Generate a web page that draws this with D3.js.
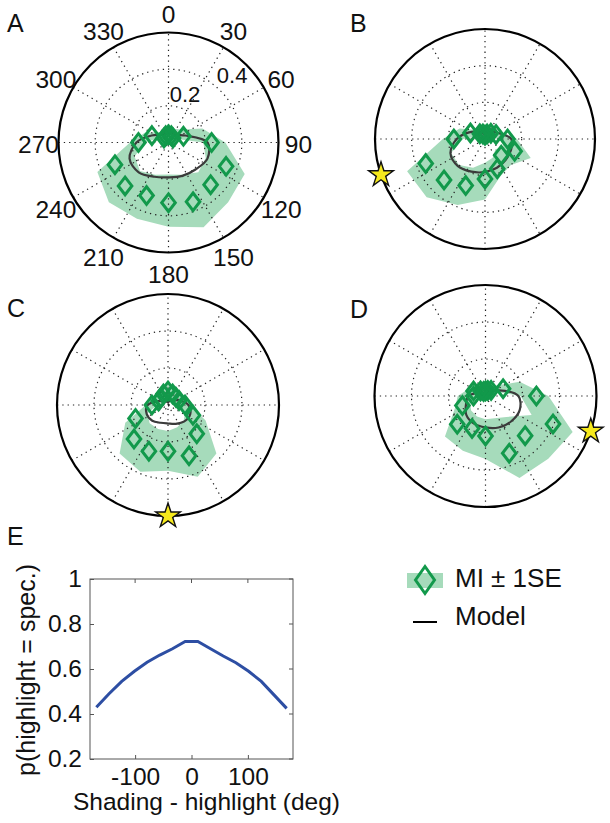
<!DOCTYPE html>
<html>
<head>
<meta charset="utf-8">
<script src="https://cdn.jsdelivr.net/npm/d3@7"></script>
<style>
  html, body { margin: 0; padding: 0; background: #fff; }
  svg { display: block; font-family: "Liberation Sans", Arial, sans-serif; }
</style>
</head>
<body>
<svg id="fig" width="610" height="823"></svg>
<script>
// ---------------- DATA ----------------
const angles = [0, 22.5, 45, 67.5, 90, 112.5, 135, 157.5, 180, 202.5, 225, 247.5, 270, 292.5, 315, 337.5];

const meanA  = [0.042, 0.040, 0.035, 0.088, 0.235, 0.340, 0.325, 0.350, 0.328, 0.313, 0.335, 0.316, 0.164, 0.098, 0.035, 0.040];
const lowA   = [0.010, 0.010, 0.010, 0.050, 0.190, 0.220, 0.230, 0.190, 0.175, 0.190, 0.220, 0.200, 0.130, 0.060, 0.010, 0.010];
const highA  = [0.070, 0.080, 0.100, 0.200, 0.310, 0.450, 0.460, 0.500, 0.460, 0.450, 0.460, 0.420, 0.210, 0.140, 0.080, 0.070];
const modelA = [0.044, 0.055, 0.060, 0.100, 0.213, 0.230, 0.208, 0.197, 0.190, 0.202, 0.230, 0.230, 0.175, 0.100, 0.060, 0.050];

const meanB  = [0.020, 0.030, 0.045, 0.065, 0.123, 0.175, 0.125, 0.175, 0.218, 0.275, 0.316, 0.350, 0.170, 0.086, 0.040, 0.030];
const lowB   = [0.010, 0.010, 0.020, 0.030, 0.080, 0.110, 0.080, 0.110, 0.130, 0.170, 0.200, 0.200, 0.120, 0.040, 0.010, 0.010];
const highB  = [0.050, 0.060, 0.070, 0.100, 0.175, 0.270, 0.200, 0.220, 0.330, 0.390, 0.450, 0.460, 0.230, 0.150, 0.070, 0.050];
const modelB = [0.028, 0.039, 0.055, 0.083, 0.143, 0.154, 0.160, 0.170, 0.180, 0.193, 0.209, 0.204, 0.154, 0.094, 0.055, 0.033];

const meanC  = [0.076, 0.065, 0.060, 0.065, 0.092, 0.146, 0.220, 0.297, 0.250, 0.270, 0.260, 0.190, 0.087, 0.055, 0.055, 0.065];
const lowC   = [0.030, 0.030, 0.030, 0.040, 0.060, 0.100, 0.120, 0.130, 0.140, 0.140, 0.140, 0.120, 0.060, 0.030, 0.030, 0.030];
const highC  = [0.110, 0.100, 0.090, 0.100, 0.120, 0.220, 0.370, 0.420, 0.355, 0.390, 0.370, 0.250, 0.120, 0.090, 0.090, 0.100];
const modelC = [0.016, 0.022, 0.033, 0.065, 0.110, 0.130, 0.125, 0.110, 0.100, 0.104, 0.120, 0.125, 0.110, 0.055, 0.027, 0.019];

const meanD  = [0.027, 0.032, 0.043, 0.103, 0.275, 0.395, 0.303, 0.335, 0.216, 0.190, 0.216, 0.135, 0.065, 0.070, 0.038, 0.027];
const lowD   = [0.005, 0.005, 0.010, 0.060, 0.190, 0.270, 0.160, 0.130, 0.125, 0.120, 0.110, 0.090, 0.050, 0.030, 0.005, 0.005];
const highD  = [0.050, 0.060, 0.080, 0.200, 0.340, 0.510, 0.480, 0.480, 0.340, 0.320, 0.310, 0.180, 0.150, 0.100, 0.060, 0.050];
const modelD = [0.011, 0.016, 0.032, 0.080, 0.178, 0.200, 0.195, 0.184, 0.170, 0.162, 0.146, 0.114, 0.092, 0.043, 0.022, 0.014];

const starAngles = { B: 251, C: 180, D: 108.5 };

const polarRMax = 0.6;
const radialTicks = [0.2, 0.4];
const angleTicks = [0, 30, 60, 90, 120, 150, 180, 210, 240, 270, 300, 330];

// Panel E
const shadingDiff = [-168.75, -146.25, -123.75, -101.25, -78.75, -56.25, -33.75, -11.25, 11.25, 33.75, 56.25, 78.75, 101.25, 123.75, 146.25, 168.75];
const pSpec       = [0.430, 0.490, 0.545, 0.590, 0.630, 0.662, 0.690, 0.722, 0.722, 0.690, 0.658, 0.628, 0.590, 0.545, 0.485, 0.425];
const eXTicks = [-100, 0, 100];
const eYTicks = [0.2, 0.4, 0.6, 0.8, 1];

// ---------------- STYLE / LAYOUT ----------------
const GREEN = "#12994b";
const BAND = "#a6dbbb";
const FONT = "'Liberation Sans', Arial, sans-serif";
const svg = d3.select("#fig");

const panels = [
  { id: "A", cx: 168.5, cy: 142.5, R: 110, mean: meanA, low: lowA, high: highA, model: modelA, labels: true,  lx: 7,   ly: 32 },
  { id: "B", cx: 485,   cy: 139,   R: 110, mean: meanB, low: lowB, high: highB, model: modelB, labels: false, lx: 350, ly: 32 },
  { id: "C", cx: 168,   cy: 405,   R: 111, mean: meanC, low: lowC, high: highC, model: modelC, labels: false, lx: 7,   ly: 317 },
  { id: "D", cx: 485.5, cy: 396,   R: 111, mean: meanD, low: lowD, high: highD, model: modelD, labels: false, lx: 350, ly: 318 }
];

const rad = d => d * Math.PI / 180;
const diamondPath = (w, h) => `M0,${-h}L${w},0L0,${h}L${-w},0Z`;

panels.forEach(p => {
  const r = d3.scaleLinear().domain([0, polarRMax]).range([0, p.R]);
  const g = svg.append("g").attr("transform", `translate(${p.cx},${p.cy})`);

  // band (mean ± 1SE) as ring with evenodd
  const ring = d3.lineRadial().curve(d3.curveLinearClosed)
    .angle(d => rad(d[0])).radius(d => r(d[1]));
  const outer = ring(angles.map((a, i) => [a, p.high[i]]));
  const inner = ring(angles.map((a, i) => [a, p.low[i]]));
  g.append("path").attr("d", outer + inner)
    .attr("fill", BAND).attr("fill-rule", "evenodd").attr("stroke", "none");

  // grid: spokes
  [0, 30, 60, 90, 120, 150].forEach(a => {
    const p1 = d3.pointRadial(rad(a), r(polarRMax));
    g.append("line")
      .attr("x1", -p1[0]).attr("y1", -p1[1]).attr("x2", p1[0]).attr("y2", p1[1])
      .attr("stroke", "#222").attr("stroke-width", 1.2)
      .attr("stroke-dasharray", "1.3,4");
  });
  // grid: circles
  radialTicks.forEach(t => {
    g.append("circle").attr("r", r(t)).attr("fill", "none")
      .attr("stroke", "#222").attr("stroke-width", 1.2)
      .attr("stroke-dasharray", "1.3,4");
  });

  // model curve
  const modelLine = d3.lineRadial().curve(d3.curveCatmullRomClosed.alpha(0.5))
    .angle(d => rad(d[0])).radius(d => r(d[1]));
  g.append("path").attr("d", modelLine(angles.map((a, i) => [a, p.model[i]])))
    .attr("fill", "none").attr("stroke", "#3b3b3b").attr("stroke-width", 2.2);

  // diamonds
  g.selectAll("path.dm").data(angles.map((a, i) => [a, p.mean[i]])).join("path")
    .attr("class", "dm")
    .attr("d", diamondPath(6.8, 8.8))
    .attr("transform", d => {
      const pt = d3.pointRadial(rad(d[0]), r(d[1]));
      return `translate(${pt[0]},${pt[1]})`;
    })
    .attr("fill", "none").attr("stroke", GREEN).attr("stroke-width", 3)
    .attr("stroke-linejoin", "miter");

  // outer circle
  g.append("circle").attr("r", r(polarRMax)).attr("fill", "none")
    .attr("stroke", "#000").attr("stroke-width", 2.2);

  // labels
  if (p.labels) {
    angleTicks.forEach(a => {
      const pt = d3.pointRadial(rad(a), 130);
      g.append("text").attr("x", pt[0]).attr("y", pt[1] + 2)
        .attr("text-anchor", "middle").attr("dominant-baseline", "central")
        .attr("font-size", 24.5).attr("fill", "#111").text(a);
    });
    const rl = [[0.2, 18.8, 0.279], [0.4, 43.3, 0.506]];
    rl.forEach(([v, ang, rr]) => {
      const pt = d3.pointRadial(rad(ang), r(rr));
      g.append("text").attr("x", pt[0]).attr("y", pt[1])
        .attr("text-anchor", "middle").attr("dominant-baseline", "central")
        .attr("font-size", 22).attr("fill", "#111").text(v);
    });
  }

  // star
  if (starAngles[p.id] !== undefined) {
    const pt = d3.pointRadial(rad(starAngles[p.id]), r(polarRMax));
    g.append("path").attr("d", d3.symbol(d3.symbolStar).size(190)())
      .attr("transform", `translate(${pt[0]},${pt[1]})`)
      .attr("fill", "#f6e91c").attr("stroke", "#111").attr("stroke-width", 1.4);
  }

  svg.append("text").attr("x", p.lx).attr("y", p.ly)
    .attr("font-size", 25).attr("fill", "#111").text(p.id);
});

// ---------------- PANEL E ----------------
svg.append("text").attr("x", 7).attr("y", 545).attr("font-size", 25).attr("fill", "#111").text("E");

const ex = d3.scaleLinear().domain([-180, 180]).range([90, 293]);
const ey = d3.scaleLinear().domain([0.2, 1]).range([759, 579]);

const eg = svg.append("g");
eg.append("rect").attr("x", 90).attr("y", 579).attr("width", 203).attr("height", 180)
  .attr("fill", "none").attr("stroke", "#555").attr("stroke-width", 1);

const xAxis = d3.axisBottom(ex).tickValues(eXTicks).tickSizeInner(-4).tickSizeOuter(0).tickPadding(9)
  .tickFormat(d => String(d));
const yAxis = d3.axisLeft(ey).tickValues(eYTicks).tickSizeInner(-4).tickSizeOuter(0).tickPadding(8)
  .tickFormat(d => d === 1 ? "1" : d3.format(".1f")(d));

const xg = eg.append("g").attr("transform", "translate(0,759)").call(xAxis);
const yg = eg.append("g").attr("transform", "translate(90,0)").call(yAxis);
[xg, yg].forEach(a => {
  a.select(".domain").remove();
  a.selectAll("line").attr("stroke", "#555");
  a.selectAll("text").attr("font-size", 24.5).attr("font-family", FONT).attr("fill", "#111");
});
// top & right ticks
eXTicks.forEach(t => eg.append("line").attr("x1", ex(t)).attr("x2", ex(t)).attr("y1", 579).attr("y2", 583).attr("stroke", "#555"));
eYTicks.forEach(t => eg.append("line").attr("x1", 293).attr("x2", 289).attr("y1", ey(t)).attr("y2", ey(t)).attr("stroke", "#555"));

eg.append("path")
  .attr("d", d3.line().x((d, i) => ex(shadingDiff[i])).y(d => ey(d))(pSpec))
  .attr("fill", "none").attr("stroke", "#2d4ea3").attr("stroke-width", 3);

svg.append("text").attr("x", 73).attr("y", 810).attr("font-size", 24.5).attr("fill", "#111")
  .text("Shading - highlight (deg)");
svg.append("text").attr("transform", "translate(35,670) rotate(-90)")
  .attr("text-anchor", "middle").attr("font-size", 25).attr("fill", "#111")
  .text("p(highlight = spec.)");

// ---------------- LEGEND ----------------
const lg = svg.append("g");
lg.append("rect").attr("x", 407).attr("y", 573).attr("width", 36).attr("height", 15).attr("fill", BAND);
lg.append("path").attr("d", diamondPath(9.5, 13.5)).attr("transform", "translate(425,580)")
  .attr("fill", "none").attr("stroke", GREEN).attr("stroke-width", 3);
lg.append("text").attr("x", 455).attr("y", 587).attr("font-size", 26).attr("fill", "#111").text("MI ± 1SE");
lg.append("line").attr("x1", 413).attr("x2", 437).attr("y1", 622).attr("y2", 622).attr("stroke", "#000").attr("stroke-width", 2);
lg.append("text").attr("x", 455).attr("y", 625).attr("font-size", 26).attr("fill", "#111").text("Model");
</script>
</body>
</html>
